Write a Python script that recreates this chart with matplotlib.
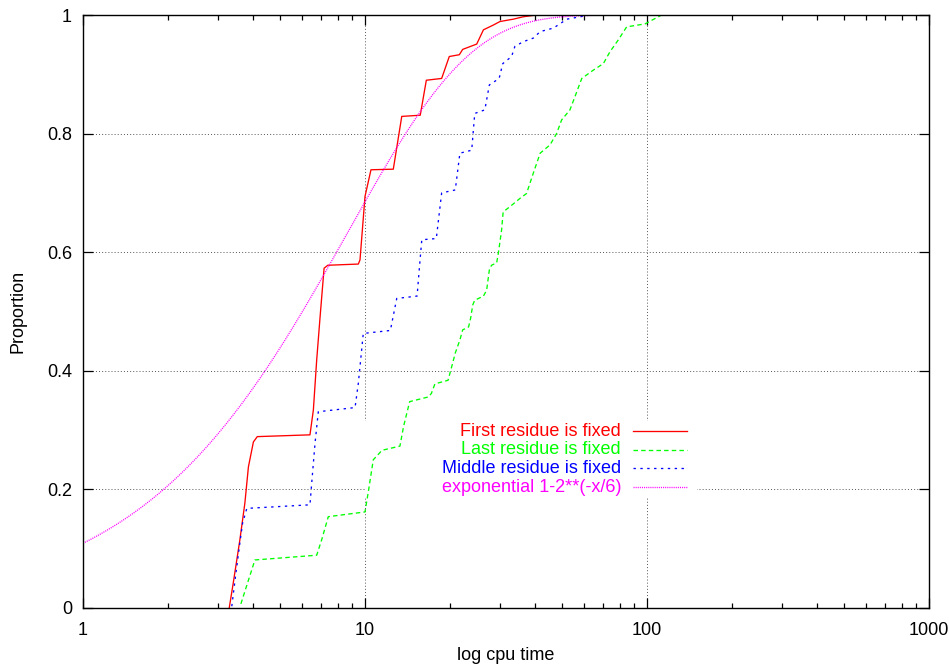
import numpy as np
import matplotlib
matplotlib.use('Agg')
from matplotlib import pyplot as plt
from matplotlib.patches import Rectangle
from matplotlib.ticker import FixedLocator, NullFormatter

plt.rcParams['font.family'] = ['Liberation Sans', 'DejaVu Sans']
plt.rcParams['font.size'] = 13

# cumulative proportion of runs vs cpu time
first_x = [3.30, 3.41, 3.60, 3.75, 3.86, 4.02, 4.15, 6.38, 6.56, 6.74,
           6.93, 7.16, 7.38, 9.47, 9.6, 10.0, 10.5, 12.6, 13.5, 15.7,
           16.5, 18.7, 19.9, 21.6, 22.2, 24.9, 26.3, 28.5, 30.1, 33.6,
           36.4, 40.6]
first_y = [0.0, 0.042, 0.115, 0.177, 0.238, 0.280, 0.289, 0.292, 0.334, 0.418,
           0.491, 0.573, 0.578, 0.580, 0.587, 0.694, 0.739, 0.740, 0.829, 0.831,
           0.890, 0.893, 0.930, 0.933, 0.942, 0.951, 0.975, 0.983, 0.989, 0.993,
           0.997, 1.0]

last_x = [3.63, 4.07, 6.74, 7.02, 7.41, 10.0, 10.3, 10.7, 11.5, 13.3,
          13.7, 14.4, 16.8, 17.2, 17.7, 19.7, 20.3, 20.9, 21.7, 22.2,
          23.3, 23.7, 24.1, 24.5, 26.3, 27.0, 27.6, 28.1, 29.3, 29.7,
          30.5, 30.9, 32.7, 35.5, 37.4, 39.5, 41.8, 45.3, 47.8, 49.8,
          53.3, 55.5, 58.7, 64.5, 70.0, 73.9, 79.1, 84.7, 98.4, 109.7,
          112.7]
last_y = [0.007, 0.081, 0.089, 0.115, 0.154, 0.162, 0.199, 0.250, 0.266, 0.273,
          0.306, 0.348, 0.356, 0.362, 0.378, 0.384, 0.407, 0.430, 0.452, 0.469,
          0.474, 0.489, 0.511, 0.519, 0.526, 0.536, 0.570, 0.578, 0.582, 0.598,
          0.637, 0.668, 0.677, 0.691, 0.699, 0.733, 0.767, 0.781, 0.800, 0.823,
          0.840, 0.862, 0.893, 0.907, 0.918, 0.938, 0.958, 0.980, 0.985, 0.997,
          1.0]

middle_x = [3.37, 3.46, 3.60, 3.68, 3.81, 6.38, 6.47, 6.65, 6.83, 9.22,
            9.47, 9.73, 9.86, 12.3, 12.96, 15.3, 15.6, 15.9, 17.9, 18.7,
            20.9, 21.7, 23.9, 24.5, 26.6, 27.6, 29.9, 30.8, 33.1, 34.0,
            36.4, 39.5, 41.8, 46.6, 52.0, 59.5, 62.8]
middle_y = [0.003, 0.047, 0.11, 0.143, 0.168, 0.174, 0.210, 0.278, 0.331, 0.338,
            0.379, 0.435, 0.463, 0.468, 0.522, 0.526, 0.575, 0.621, 0.623, 0.700,
            0.705, 0.767, 0.772, 0.834, 0.840, 0.882, 0.893, 0.918, 0.930, 0.947,
            0.955, 0.961, 0.972, 0.978, 0.993, 0.998, 1.0]

# reference curve 1-2**(-x/6)
half_time = 6.0
expo_x = np.logspace(0, 3, 400)
expo_y = 1 - 2 ** (-expo_x / half_time)

labels = ['First residue is fixed', 'Last residue is fixed',
          'Middle residue is fixed', 'exponential 1-2**(-x/6)']
xticks = [1, 10, 100, 1000]
xticklabels = ['1', '10', '100', '1000']
yticks = [0, 0.2, 0.4, 0.6, 0.8, 1]
yticklabels = ['0', '0.2', '0.4', '0.6', '0.8', '1']

fig = plt.figure(figsize=(9.49, 6.65), dpi=100)
ax = fig.add_axes([83 / 949, 57 / 665, 846 / 949, 593 / 665])
ax.set_xscale('log')
ax.set_xlim(1, 1000)
ax.set_ylim(0, 1)

styles = [
    dict(color='#ff0000', linestyle='-'),
    dict(color='#00ff00', dashes=(3.4, 2.4)),
    dict(color='#0000ff', dashes=(1.8, 3.4)),
    dict(color='#ff00ff', dashes=(0.8, 0.8)),
]
series = [(first_x, first_y), (last_x, last_y), (middle_x, middle_y),
          (expo_x, expo_y)]
for (xs, ys), st in zip(series, styles):
    ax.plot(xs, ys, linewidth=0.95, zorder=2, **st)

# ticks like gnuplot: inward, mirrored
ax.xaxis.set_major_locator(FixedLocator(xticks))
ax.set_xticklabels(xticklabels)
minors = [m * d for d in [1, 10, 100] for m in range(2, 10)]
ax.xaxis.set_minor_locator(FixedLocator(minors))
ax.xaxis.set_minor_formatter(NullFormatter())
ax.set_yticks(yticks)
ax.set_yticklabels(yticklabels)
ax.tick_params(which='both', direction='in', top=True, right=True,
               width=0.9, pad=8)
ax.tick_params(axis='x', which='major', pad=10)
ax.tick_params(which='major', length=7)
ax.tick_params(which='minor', length=3.5)
for sp in ax.spines.values():
    sp.set_linewidth(1.0)

ax.set_axisbelow(True)
ax.grid(True, which='major', color='#555555', linewidth=0.7,
        dashes=(1, 2.2))

# key area is blanked over the grid (curves stay on top)
ax.add_patch(Rectangle((0.3333, 0.187), 0.3925, 0.128, transform=ax.transAxes,
                       facecolor='white', edgecolor='none', zorder=1))

# key: right aligned text, sample line to the right
for i, (lab, st) in enumerate(zip(labels, styles)):
    yk = (608 - (431 + i * 18.7)) / 593
    ax.text(0.636, yk, lab, transform=ax.transAxes, ha='right', va='center',
            color=st['color'])
    ax.plot([0.650, 0.714], [yk, yk], transform=ax.transAxes, linewidth=0.95,
            **st)

ax.set_xlabel('log cpu time', va='center')
ax.xaxis.set_label_coords(0.5, -47 / 593)
ax.set_ylabel('Proportion', va='center')
ax.yaxis.set_label_coords(-65 / 846, 0.5)

fig.savefig('out.png', dpi=100)
